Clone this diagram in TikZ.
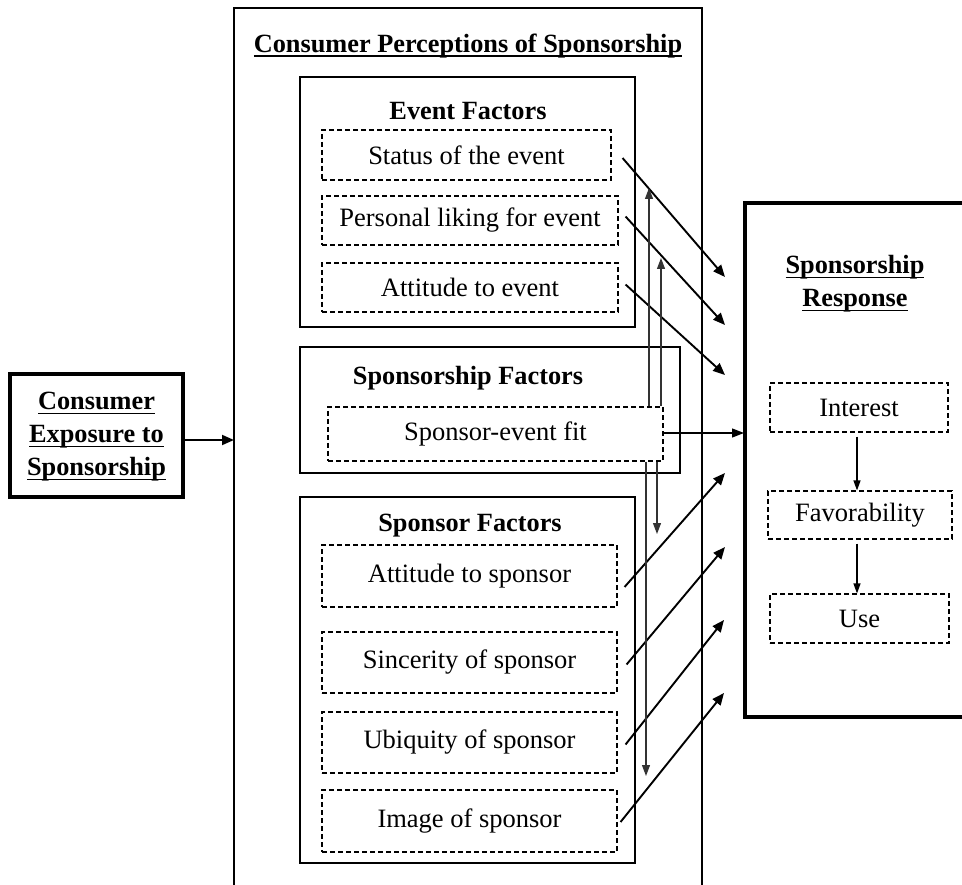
\documentclass[tikz,border=0pt]{standalone}
\usepackage{fontspec}
\setmainfont{Liberation Serif}
\newsavebox\myulbox
\newcommand\myul[1]{\sbox\myulbox{#1}\rlap{\rule[-4.5pt]{\wd\myulbox}{1.7pt}}\usebox\myulbox}
\usetikzlibrary{arrows.meta}
\begin{document}
\begin{tikzpicture}[x=1pt,y=-1pt,
  ttl/.style={font=\fontsize{26.3}{33}\selectfont\bfseries, align=center, inner sep=0},
  dbox/.style={draw, dash pattern=on 5pt off 3pt, line width=1.1pt, inner sep=0, font=\fontsize{26.5}{30}\selectfont},
  gbox/.style={draw, line width=1.5pt, inner sep=0},
  tbox/.style={draw, line width=3.5pt, inner sep=0},
  arr/.style={line width=1.9pt, -{Triangle[length=12pt,width=10pt]}},
  varr/.style={line width=1.2pt, draw=black!80, -{Triangle[length=11pt,width=8pt]}},
  rarr/.style={line width=1.2pt, -{Triangle[length=10pt,width=7pt]}},
]
\useasboundingbox (0,0) rectangle (962,885);

% outer box (open at bottom)
\draw[line width=2pt] (234,886) -- (234,8) -- (702,8) -- (702,886);
\coordinate (outerL) at (234,440);
\node[ttl] (maintitle) at (468,46) {\myul{Consumer Perceptions of Sponsorship}};

% Event factors
\node[gbox, minimum width=335, minimum height=250] (evbox) at (467.5,202) {};
\node[ttl] (evtitle) at (468,111) {Event Factors};
\node[dbox, minimum width=289, minimum height=50] (status) at (466.5,155) {Status of the event};
\node[dbox, minimum width=296, minimum height=49] (liking) at (470,220.5) {Personal liking for event};
\node[dbox, minimum width=296, minimum height=49] (attev) at (470,287.5) {Attitude to event};

% Sponsorship factors
\node[gbox, minimum width=380, minimum height=126] (spbox) at (490,410) {};
\node[ttl] (sptitle) at (468,378) {Sponsorship Factors};
\node[dbox, minimum width=335, minimum height=54] (fit) at (495.5,434) {Sponsor-event fit};

% Sponsor factors
\node[gbox, minimum width=335, minimum height=366] (sobox) at (467.5,680) {};
\node[ttl] (sotitle) at (470,526) {Sponsor Factors};
\node[dbox, minimum width=295, minimum height=62] (attsp) at (469.5,576) {Attitude to sponsor};
\node[dbox, minimum width=295, minimum height=61] (sinc) at (469.5,662.5) {Sincerity of sponsor};
\node[dbox, minimum width=295, minimum height=61] (ubiq) at (469.5,742.5) {Ubiquity of sponsor};
\node[dbox, minimum width=295, minimum height=62] (image) at (469.5,821) {Image of sponsor};

% Left box
\node[tbox, minimum width=173, minimum height=123] (expo) at (96.5,435.5) {};
\node[ttl] (expotxt) at (96.5,437) {\myul{Consumer}\\\myul{Exposure to}\\\myul{Sponsorship}};
\draw[arr] (expo.east |- outerL) -- (outerL);

% Right box (open at right page edge)
\draw[line width=3.5pt] (964,203) -- (745,203) -- (745,717) -- (964,717);
\node[ttl] (resptitle) at (855,284) {\myul{Sponsorship}\\\myul{Response}};
\node[dbox, minimum width=178, minimum height=49] (interest) at (859,407.5) {Interest};
\node[dbox, minimum width=184, minimum height=48] (favor) at (860,515) {Favorability};
\node[dbox, minimum width=179, minimum height=49] (use) at (859.5,618.5) {Use};
\draw[rarr] (interest.south -| 857,0) ++(0,4) -- (favor.north -| 857,0);
\draw[rarr] (favor.south -| 857,0) ++(0,4) -- (use.north -| 857,0);

% arrow tips toward response box
\coordinate (t1) at (725,277);
\coordinate (t2) at (725,325);
\coordinate (t3) at (725,375);
\coordinate (t4) at (725,473);
\coordinate (t5) at (725,547);
\coordinate (t6) at (724,620);
\coordinate (t7) at (724,693);
\coordinate (tfit) at (744,433);

\draw[arr] ([shift={(11,3)}]status.east) -- (t1);
\draw[arr] ([shift={(7,-4)}]liking.east) -- (t2);
\draw[arr] ([shift={(7,-3)}]attev.east) -- (t3);
\draw[arr] ([shift={(7,11)}]attsp.east) -- (t4);
\draw[arr] ([shift={(9,2)}]sinc.east) -- (t5);
\draw[arr] ([shift={(8,2)}]ubiq.east) -- (t6);
\draw[arr] ([shift={(3,1)}]image.east) -- (t7);
\draw[line width=1.3pt, -{Triangle[length=12pt,width=9pt]}] (fit.east |- tfit) -- (tfit);

% vertical arrows from sponsor-event fit
\coordinate (u1) at (649,188);
\coordinate (u2) at (661,258);
\coordinate (d1) at (646,776);
\coordinate (d2) at (657,534);
\draw[varr] (fit.north -| u1) -- (u1);
\draw[varr] (fit.north -| u2) -- (u2);
\draw[varr] (fit.south -| d1) -- (d1);
\draw[varr] (fit.south -| d2) -- (d2);
\end{tikzpicture}
\end{document}
